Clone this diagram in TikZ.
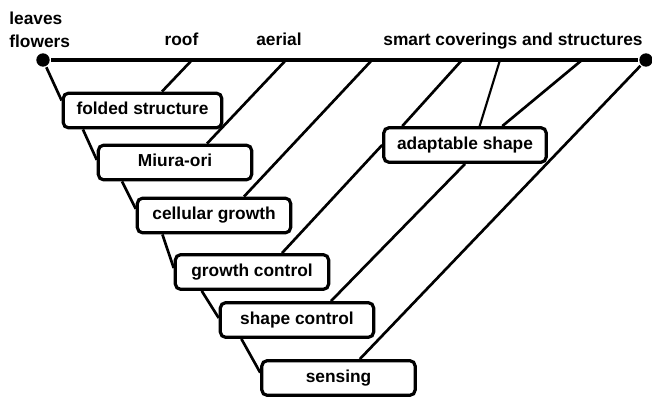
\documentclass[tikz,border=0pt]{standalone}
\usepackage{fontspec}
\setmainfont{Liberation Sans}
\usepackage{tikz}
\usetikzlibrary{positioning}

\begin{document}
\begin{tikzpicture} [x = .75pt, y = -.75pt, line width = 2pt,
  font = \bfseries\fontsize{13}{17}\selectfont,
  box/.style = {draw, line width = 2.4pt, rounded corners = 4pt, fill = white,
    minimum width = 115pt, minimum height = 26pt, inner xsep = 10pt,
    text height = 9.5pt, text depth = 3pt},
  dot/.style = {circle, fill, inner sep = 0pt, minimum size = 10pt}]
\useasboundingbox (0,0) rectangle (652,400);
% ends of the top line
\node(d1)[dot] at (43,60){};
\node(d2)[dot] at (646,60){};
\coordinate (p1) at (192,60);
\coordinate (p2) at (286,60);
\coordinate (p3) at (372,60);
\coordinate (p4) at (462,60);
\coordinate (p5) at (500,60);
\coordinate (p6) at (582,60);
% labels over the line
\node(l0)[anchor = south west, align = left, inner sep = 0pt] at (8,49){leaves\\flowers};
\node(l1)[anchor = base] at (181.5,45){roof};
\node(l2)[anchor = base] at (279,45){aerial};
\node(l3)[anchor = base] at (513,45){smart coverings and structures};
% boxes
\node(b1)[box] at (142.5,110.5){folded structure};
\node(b2)[box] at (175,162.5){Miura-ori};
\node(b3)[box] at (214,215.5){cellular growth};
\node(b4)[box] at (252,272){growth control};
\node(b5)[box] at (297,320){shape control};
\node(b6)[box] at (338.5,378){sensing};
\node(a1)[box] at (465,145){adaptable shape};
\draw [line width = 2.6pt] (d1) -- (d2);
\draw (d1) -- ([yshift = 7.5pt]b1.west);
\draw ([xshift = 16pt]b1.south west) -- ([yshift = 2pt]b2.west);
\draw ([xshift = 19pt]b2.south west) -- ([yshift = 5pt]b3.west);
\draw ([xshift = 20pt]b3.south west) -- ([yshift = 3pt]b4.west);
\draw ([xshift = 21pt]b4.south west) -- ([yshift = 1.5pt]b5.west);
\draw ([xshift = 17pt]b5.south west) -- ([yshift = 4pt]b6.west);
\draw (p1) -- ([xshift = 14.6pt]b1.north);
\draw (p2) -- ([xshift = 24pt]b2.north);
\draw (p3) -- ([xshift = 22.5pt]b3.north);
\draw (p4) -- ([xshift = -47pt]a1.north);
\draw [line width = 1.6pt] (p5) -- ([xshift = 11pt]a1.north);
\draw (p6) -- ([xshift = 28pt]a1.north);
\draw (a1.west) -- ([xshift = 22.5pt]b4.north);
\draw (a1.south) -- ([xshift = 25.5pt]b5.north);
\draw (d2) -- ([xshift = 16pt]b6.north);
\end{tikzpicture}
\end{document}
